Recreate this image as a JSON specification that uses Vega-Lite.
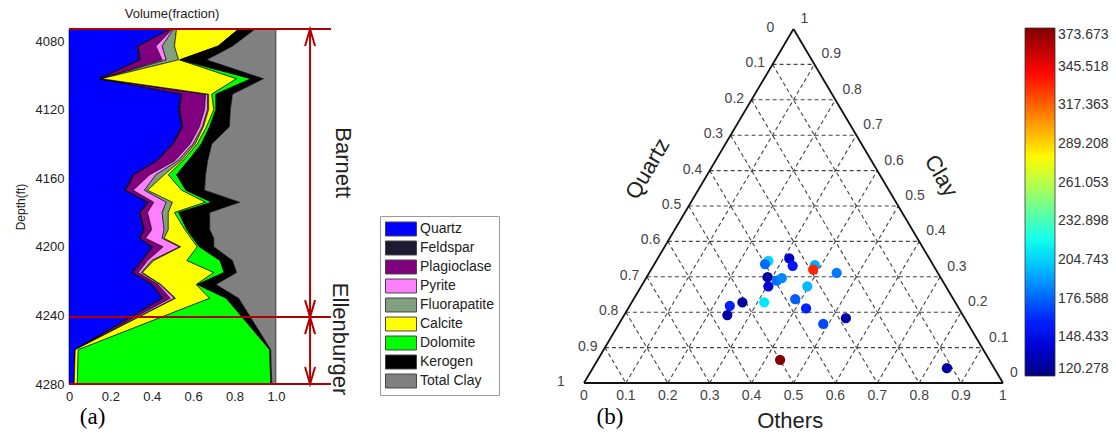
{
  "$schema": "https://vega.github.io/schema/vega-lite/v6.json",
  "background": "white",
  "padding": {"left": 14, "top": 8, "right": 0, "bottom": 0},
  "bounds": "flush",
  "spacing": 246,
  "config": {"view": {"stroke": null}, "font": "Liberation Sans", "axis": {"labelFont": "Liberation Sans", "titleFont": "Liberation Sans"}},
  "resolve": {"scale": {"color": "independent", "shape": "independent"}, "legend": {"color": "independent"}},
  "datasets": {
    "logs": [
      {"d": 4073, "Quartz": 0.49, "Feldspar": 0.002, "Plagioclase": 0.008, "Pyrite": 0.005, "Fluorapatite": 0.015, "Calcite": 0.30, "Dolomite": 0.002, "Kerogen": 0.078, "Total Clay": 0.10},
      {"d": 4083, "Quartz": 0.33, "Feldspar": 0.005, "Plagioclase": 0.085, "Pyrite": 0.03, "Fluorapatite": 0.06, "Calcite": 0.21, "Dolomite": 0.002, "Kerogen": 0.068, "Total Clay": 0.21},
      {"d": 4091, "Quartz": 0.34, "Feldspar": 0.005, "Plagioclase": 0.105, "Pyrite": 0.02, "Fluorapatite": 0.06, "Calcite": 0.005, "Dolomite": 0.002, "Kerogen": 0.128, "Total Clay": 0.335},
      {"d": 4102, "Quartz": 0.145, "Feldspar": 0.003, "Plagioclase": 0.004, "Pyrite": 0.003, "Fluorapatite": 0.003, "Calcite": 0.652, "Dolomite": 0.07, "Kerogen": 0.06, "Total Clay": 0.06},
      {"d": 4111, "Quartz": 0.54, "Feldspar": 0.005, "Plagioclase": 0.115, "Pyrite": 0.01, "Fluorapatite": 0.005, "Calcite": 0.015, "Dolomite": 0.02, "Kerogen": 0.08, "Total Clay": 0.21},
      {"d": 4120, "Quartz": 0.53, "Feldspar": 0.005, "Plagioclase": 0.12, "Pyrite": 0.015, "Fluorapatite": 0.005, "Calcite": 0.025, "Dolomite": 0.01, "Kerogen": 0.07, "Total Clay": 0.22},
      {"d": 4130, "Quartz": 0.545, "Feldspar": 0.005, "Plagioclase": 0.08, "Pyrite": 0.015, "Fluorapatite": 0.005, "Calcite": 0.015, "Dolomite": 0.015, "Kerogen": 0.095, "Total Clay": 0.225},
      {"d": 4140, "Quartz": 0.50, "Feldspar": 0.005, "Plagioclase": 0.08, "Pyrite": 0.015, "Fluorapatite": 0.01, "Calcite": 0.01, "Dolomite": 0.02, "Kerogen": 0.05, "Total Clay": 0.31},
      {"d": 4150, "Quartz": 0.42, "Feldspar": 0.005, "Plagioclase": 0.085, "Pyrite": 0.015, "Fluorapatite": 0.015, "Calcite": 0.01, "Dolomite": 0.025, "Kerogen": 0.095, "Total Clay": 0.33},
      {"d": 4158, "Quartz": 0.31, "Feldspar": 0.005, "Plagioclase": 0.075, "Pyrite": 0.03, "Fluorapatite": 0.04, "Calcite": 0.02, "Dolomite": 0.04, "Kerogen": 0.14, "Total Clay": 0.34},
      {"d": 4167, "Quartz": 0.27, "Feldspar": 0.005, "Plagioclase": 0.035, "Pyrite": 0.055, "Fluorapatite": 0.015, "Calcite": 0.165, "Dolomite": 0.02, "Kerogen": 0.09, "Total Clay": 0.345},
      {"d": 4174, "Quartz": 0.38, "Feldspar": 0.005, "Plagioclase": 0.025, "Pyrite": 0.06, "Fluorapatite": 0.03, "Calcite": 0.16, "Dolomite": 0.03, "Kerogen": 0.135, "Total Clay": 0.175},
      {"d": 4180, "Quartz": 0.34, "Feldspar": 0.005, "Plagioclase": 0.035, "Pyrite": 0.07, "Fluorapatite": 0.03, "Calcite": 0.03, "Dolomite": 0.02, "Kerogen": 0.15, "Total Clay": 0.32},
      {"d": 4190, "Quartz": 0.36, "Feldspar": 0.005, "Plagioclase": 0.035, "Pyrite": 0.06, "Fluorapatite": 0.02, "Calcite": 0.08, "Dolomite": 0.01, "Kerogen": 0.11, "Total Clay": 0.32},
      {"d": 4195, "Quartz": 0.34, "Feldspar": 0.005, "Plagioclase": 0.025, "Pyrite": 0.08, "Fluorapatite": 0.01, "Calcite": 0.13, "Dolomite": 0.01, "Kerogen": 0.10, "Total Clay": 0.30},
      {"d": 4200, "Quartz": 0.40, "Feldspar": 0.005, "Plagioclase": 0.05, "Pyrite": 0.08, "Fluorapatite": 0.005, "Calcite": 0.08, "Dolomite": 0.01, "Kerogen": 0.07, "Total Clay": 0.30},
      {"d": 4208, "Quartz": 0.35, "Feldspar": 0.005, "Plagioclase": 0.025, "Pyrite": 0.02, "Fluorapatite": 0.01, "Calcite": 0.16, "Dolomite": 0.16, "Kerogen": 0.06, "Total Clay": 0.21},
      {"d": 4215, "Quartz": 0.305, "Feldspar": 0.005, "Plagioclase": 0.025, "Pyrite": 0.015, "Fluorapatite": 0.005, "Calcite": 0.345, "Dolomite": 0.05, "Kerogen": 0.06, "Total Clay": 0.19},
      {"d": 4222, "Quartz": 0.40, "Feldspar": 0.005, "Plagioclase": 0.025, "Pyrite": 0.01, "Fluorapatite": 0.005, "Calcite": 0.17, "Dolomite": 0.005, "Kerogen": 0.09, "Total Clay": 0.29},
      {"d": 4230, "Quartz": 0.45, "Feldspar": 0.005, "Plagioclase": 0.035, "Pyrite": 0.02, "Fluorapatite": 0.005, "Calcite": 0.165, "Dolomite": 0.08, "Kerogen": 0.06, "Total Clay": 0.18},
      {"d": 4260, "Quartz": 0.03, "Feldspar": 0, "Plagioclase": 0, "Pyrite": 0, "Fluorapatite": 0, "Calcite": 0.015, "Dolomite": 0.925, "Kerogen": 0.005, "Total Clay": 0.025},
      {"d": 4280, "Quartz": 0.025, "Feldspar": 0, "Plagioclase": 0, "Pyrite": 0, "Fluorapatite": 0, "Calcite": 0.015, "Dolomite": 0.935, "Kerogen": 0.005, "Total Clay": 0.02}
    ],
    "minerals": [
      {"m": "Quartz", "o": 1}, {"m": "Feldspar", "o": 2}, {"m": "Plagioclase", "o": 3},
      {"m": "Pyrite", "o": 4}, {"m": "Fluorapatite", "o": 5}, {"m": "Calcite", "o": 6},
      {"m": "Dolomite", "o": 7}, {"m": "Kerogen", "o": 8}, {"m": "Total Clay", "o": 9}
    ],
    "grid": [
      {"x1": 0.05, "y1": 0.1, "x2": 0.95, "y2": 0.1},
      {"x1": 0.1, "y1": 0.2, "x2": 0.9, "y2": 0.2},
      {"x1": 0.15, "y1": 0.3, "x2": 0.85, "y2": 0.3},
      {"x1": 0.2, "y1": 0.4, "x2": 0.8, "y2": 0.4},
      {"x1": 0.25, "y1": 0.5, "x2": 0.75, "y2": 0.5},
      {"x1": 0.3, "y1": 0.6, "x2": 0.7, "y2": 0.6},
      {"x1": 0.35, "y1": 0.7, "x2": 0.65, "y2": 0.7},
      {"x1": 0.4, "y1": 0.8, "x2": 0.6, "y2": 0.8},
      {"x1": 0.45, "y1": 0.9, "x2": 0.55, "y2": 0.9},
      {"x1": 0.1, "y1": 0, "x2": 0.55, "y2": 0.9},
      {"x1": 0.2, "y1": 0, "x2": 0.6, "y2": 0.8},
      {"x1": 0.3, "y1": 0, "x2": 0.65, "y2": 0.7},
      {"x1": 0.4, "y1": 0, "x2": 0.7, "y2": 0.6},
      {"x1": 0.5, "y1": 0, "x2": 0.75, "y2": 0.5},
      {"x1": 0.6, "y1": 0, "x2": 0.8, "y2": 0.4},
      {"x1": 0.7, "y1": 0, "x2": 0.85, "y2": 0.3},
      {"x1": 0.8, "y1": 0, "x2": 0.9, "y2": 0.2},
      {"x1": 0.9, "y1": 0, "x2": 0.95, "y2": 0.1},
      {"x1": 0.45, "y1": 0.9, "x2": 0.9, "y2": 0},
      {"x1": 0.4, "y1": 0.8, "x2": 0.8, "y2": 0},
      {"x1": 0.35, "y1": 0.7, "x2": 0.7, "y2": 0},
      {"x1": 0.3, "y1": 0.6, "x2": 0.6, "y2": 0},
      {"x1": 0.25, "y1": 0.5, "x2": 0.5, "y2": 0},
      {"x1": 0.2, "y1": 0.4, "x2": 0.4, "y2": 0},
      {"x1": 0.15, "y1": 0.3, "x2": 0.3, "y2": 0},
      {"x1": 0.1, "y1": 0.2, "x2": 0.2, "y2": 0},
      {"x1": 0.05, "y1": 0.1, "x2": 0.1, "y2": 0}
    ],
    "edges": [
      {"x1": 0, "y1": 0, "x2": 1, "y2": 0},
      {"x1": 0, "y1": 0, "x2": 0.5, "y2": 1},
      {"x1": 1, "y1": 0, "x2": 0.5, "y2": 1}
    ],
    "quartzTicks": [
      {"lab": "0", "tx": 0.5, "clay": 1}, {"lab": "0.1", "tx": 0.45, "clay": 0.9}, {"lab": "0.2", "tx": 0.4, "clay": 0.8},
      {"lab": "0.3", "tx": 0.35, "clay": 0.7}, {"lab": "0.4", "tx": 0.3, "clay": 0.6}, {"lab": "0.5", "tx": 0.25, "clay": 0.5},
      {"lab": "0.6", "tx": 0.2, "clay": 0.4}, {"lab": "0.7", "tx": 0.15, "clay": 0.3}, {"lab": "0.8", "tx": 0.1, "clay": 0.2},
      {"lab": "0.9", "tx": 0.05, "clay": 0.1}, {"lab": "1", "tx": 0, "clay": 0}
    ],
    "clayTicks": [
      {"lab": "1", "tx": 0.5, "clay": 1}, {"lab": "0.9", "tx": 0.55, "clay": 0.9}, {"lab": "0.8", "tx": 0.6, "clay": 0.8},
      {"lab": "0.7", "tx": 0.65, "clay": 0.7}, {"lab": "0.6", "tx": 0.7, "clay": 0.6}, {"lab": "0.5", "tx": 0.75, "clay": 0.5},
      {"lab": "0.4", "tx": 0.8, "clay": 0.4}, {"lab": "0.3", "tx": 0.85, "clay": 0.3}, {"lab": "0.2", "tx": 0.9, "clay": 0.2},
      {"lab": "0.1", "tx": 0.95, "clay": 0.1}, {"lab": "0", "tx": 1, "clay": 0}
    ],
    "othersTicks": [
      {"lab": "0", "tx": 0, "clay": 0}, {"lab": "0.1", "tx": 0.1, "clay": 0}, {"lab": "0.2", "tx": 0.2, "clay": 0},
      {"lab": "0.3", "tx": 0.3, "clay": 0}, {"lab": "0.4", "tx": 0.4, "clay": 0}, {"lab": "0.5", "tx": 0.5, "clay": 0},
      {"lab": "0.6", "tx": 0.6, "clay": 0}, {"lab": "0.7", "tx": 0.7, "clay": 0}, {"lab": "0.8", "tx": 0.8, "clay": 0},
      {"lab": "0.9", "tx": 0.9, "clay": 0}, {"lab": "1", "tx": 1, "clay": 0}
    ],
    "samples": [
      {"tx": 0.440, "clay": 0.345, "t": 205},
      {"tx": 0.432, "clay": 0.336, "t": 178},
      {"tx": 0.490, "clay": 0.352, "t": 138},
      {"tx": 0.498, "clay": 0.331, "t": 158},
      {"tx": 0.551, "clay": 0.333, "t": 195},
      {"tx": 0.547, "clay": 0.320, "t": 333},
      {"tx": 0.603, "clay": 0.311, "t": 182},
      {"tx": 0.438, "clay": 0.299, "t": 128},
      {"tx": 0.460, "clay": 0.289, "t": 180},
      {"tx": 0.472, "clay": 0.296, "t": 186},
      {"tx": 0.440, "clay": 0.273, "t": 142},
      {"tx": 0.533, "clay": 0.273, "t": 198},
      {"tx": 0.430, "clay": 0.228, "t": 210},
      {"tx": 0.378, "clay": 0.228, "t": 127},
      {"tx": 0.348, "clay": 0.218, "t": 160},
      {"tx": 0.342, "clay": 0.192, "t": 130},
      {"tx": 0.504, "clay": 0.237, "t": 175},
      {"tx": 0.530, "clay": 0.211, "t": 160},
      {"tx": 0.571, "clay": 0.167, "t": 170},
      {"tx": 0.625, "clay": 0.183, "t": 130},
      {"tx": 0.468, "clay": 0.065, "t": 373},
      {"tx": 0.866, "clay": 0.042, "t": 130}
    ]
  },
  "hconcat": [
    {
      "width": 269,
      "height": 355,
      "layer": [
        {
          "data": {"name": "logs"},
          "transform": [
            {"fold": ["Quartz", "Feldspar", "Plagioclase", "Pyrite", "Fluorapatite", "Calcite", "Dolomite", "Kerogen", "Total Clay"], "as": ["m", "v"]},
            {"lookup": "m", "from": {"data": {"name": "minerals"}, "key": "m", "fields": ["o"]}}
          ],
          "mark": {"type": "area", "orient": "horizontal", "stroke": "black", "strokeWidth": 0.6, "opacity": 1},
          "encoding": {
            "y": {"field": "d", "type": "quantitative", "title": "Depth(ft)",
                  "scale": {"domain": [4073, 4280], "reverse": true, "nice": false, "zero": false},
                  "axis": {"values": [4080, 4100, 4120, 4140, 4160, 4180, 4200, 4220, 4240, 4260, 4280], "format": "d", "ticks": false, "domain": false, "grid": false,
                           "labelFontSize": 13, "labelPadding": 5, "labelColor": "#222", "titleFontSize": 12, "titleFontWeight": "normal", "titleColor": "#222", "titlePadding": 8}},
            "x": {"field": "v", "type": "quantitative", "stack": "zero", "title": null,
                  "scale": {"domain": [0, 1.3], "nice": false, "zero": false},
                  "axis": {"values": [0, 0.2, 0.4, 0.6, 0.8, 1.0], "labelExpr": "datum.value == 0 ? '0' : format(datum.value, '.1f')", "labelFlush": false,
                           "ticks": false, "domain": false, "grid": false, "labelFontSize": 13, "labelPadding": 6, "labelColor": "#222"}},
            "color": {"field": "m", "type": "nominal",
                      "scale": {"domain": ["Quartz", "Feldspar", "Plagioclase", "Pyrite", "Fluorapatite", "Calcite", "Dolomite", "Kerogen", "Total Clay"],
                                "range": ["#0000ff", "#1a1a30", "#800080", "#ff80ff", "#80a080", "#ffff00", "#00ff00", "#000000", "#808080"]},
                      "legend": {"orient": "none", "legendX": 311, "legendY": 187, "title": null,
                                 "symbolType": "M-1,-0.93H3.13V0.93H-1Z", "symbolSize": 225, "symbolStrokeColor": "#444", "symbolStrokeWidth": 1, "symbolOpacity": 1,
                                 "labelFontSize": 14, "labelFont": "Liberation Sans", "labelColor": "#222", "labelOffset": 19,
                                 "rowPadding": 1, "padding": 5, "strokeColor": "#999", "fillColor": "white"}},
            "order": {"field": "o", "type": "quantitative"}
          }
        },
        {
          "data": {"values": [{"d": 4073}, {"d": 4241}, {"d": 4280}]},
          "mark": {"type": "rule", "color": "#b00000", "strokeWidth": 2},
          "encoding": {
            "y": {"field": "d", "type": "quantitative", "title": "Depth(ft)"},
            "x": {"datum": 0},
            "x2": {"datum": 1.266}
          }
        },
        {
          "data": {"values": [{"d": 4073, "d2": 4241}, {"d": 4241, "d2": 4280}]},
          "mark": {"type": "rule", "color": "#b00000", "strokeWidth": 2},
          "encoding": {
            "y": {"field": "d", "type": "quantitative", "title": "Depth(ft)"},
            "y2": {"field": "d2"},
            "x": {"datum": 1.165}
          }
        },
        {
          "data": {"values": [{"d": 4073, "dir": "up"}, {"d": 4241, "dir": "up"}, {"d": 4241, "dir": "down"}, {"d": 4280, "dir": "down"}]},
          "mark": {"type": "point", "filled": false, "stroke": "#b00000", "strokeWidth": 2, "size": 100, "opacity": 1},
          "encoding": {
            "y": {"field": "d", "type": "quantitative", "title": "Depth(ft)"},
            "x": {"datum": 1.165},
            "shape": {"field": "dir", "type": "nominal", "legend": null,
                      "scale": {"domain": ["up", "down"], "range": ["M-1,3.4L0,0L1,3.4", "M-1,-3.4L0,0L1,-3.4"]}}
          }
        },
        {
          "data": {"values": [{}]},
          "mark": {"type": "text", "text": "Barnett", "angle": 90, "fontSize": 22, "font": "Liberation Sans", "color": "#222", "align": "center", "baseline": "middle"},
          "encoding": {"x": {"datum": 1.324}, "y": {"datum": 4151}}
        },
        {
          "data": {"values": [{}]},
          "mark": {"type": "text", "text": "Ellenburger", "angle": 90, "fontSize": 22, "font": "Liberation Sans", "color": "#222", "align": "center", "baseline": "middle"},
          "encoding": {"x": {"datum": 1.31}, "y": {"datum": 4253.8}}
        },
        {
          "data": {"values": [{}]},
          "mark": {"type": "text", "text": "Volume(fraction)", "fontSize": 13, "font": "Liberation Sans", "color": "#222", "align": "center", "baseline": "middle"},
          "encoding": {"x": {"datum": 0.498}, "y": {"datum": 4064.3}}
        },
        {
          "data": {"values": [{}]},
          "mark": {"type": "text", "text": "(a)", "fontSize": 23, "font": "Liberation Serif", "color": "#000", "align": "center", "baseline": "middle"},
          "encoding": {"x": {"datum": 0.114}, "y": {"datum": 4299.2}}
        }
      ]
    },
    {
      "width": 419,
      "height": 354,
      "layer": [
        {
          "data": {"name": "grid"},
          "mark": {"type": "rule", "color": "#444", "strokeWidth": 1.1, "strokeDash": [4, 3]},
          "encoding": {
            "x": {"field": "x1", "type": "quantitative", "scale": {"domain": [0, 1], "nice": false, "zero": false}, "axis": null},
            "y": {"field": "y1", "type": "quantitative", "scale": {"domain": [0, 1], "nice": false, "zero": false}, "axis": null},
            "x2": {"field": "x2"},
            "y2": {"field": "y2"}
          }
        },
        {
          "data": {"name": "edges"},
          "mark": {"type": "rule", "color": "#111", "strokeWidth": 1.8},
          "encoding": {
            "x": {"field": "x1", "type": "quantitative", "scale": {"domain": [0, 1], "nice": false, "zero": false}, "axis": null},
            "y": {"field": "y1", "type": "quantitative", "scale": {"domain": [0, 1], "nice": false, "zero": false}, "axis": null},
            "x2": {"field": "x2"},
            "y2": {"field": "y2"}
          }
        },
        {
          "data": {"name": "quartzTicks"},
          "mark": {"type": "text", "fontSize": 14, "font": "Liberation Sans", "color": "#444", "align": "left", "baseline": "middle", "dx": -27, "dy": -1},
          "encoding": {
            "x": {"field": "tx", "type": "quantitative", "scale": {"domain": [0, 1], "nice": false, "zero": false}, "axis": null},
            "y": {"field": "clay", "type": "quantitative", "scale": {"domain": [0, 1], "nice": false, "zero": false}, "axis": null},
            "text": {"field": "lab", "type": "nominal"}
          }
        },
        {
          "data": {"name": "clayTicks"},
          "mark": {"type": "text", "fontSize": 14, "font": "Liberation Sans", "color": "#444", "align": "left", "baseline": "middle", "dx": 7, "dy": -10},
          "encoding": {
            "x": {"field": "tx", "type": "quantitative", "scale": {"domain": [0, 1], "nice": false, "zero": false}, "axis": null},
            "y": {"field": "clay", "type": "quantitative", "scale": {"domain": [0, 1], "nice": false, "zero": false}, "axis": null},
            "text": {"field": "lab", "type": "nominal"}
          }
        },
        {
          "data": {"name": "othersTicks"},
          "mark": {"type": "text", "fontSize": 14, "font": "Liberation Sans", "color": "#444", "align": "center", "baseline": "middle", "dy": 13},
          "encoding": {
            "x": {"field": "tx", "type": "quantitative", "scale": {"domain": [0, 1], "nice": false, "zero": false}, "axis": null},
            "y": {"field": "clay", "type": "quantitative", "scale": {"domain": [0, 1], "nice": false, "zero": false}, "axis": null},
            "text": {"field": "lab", "type": "nominal"}
          }
        },
        {
          "data": {"name": "samples"},
          "mark": {"type": "circle", "size": 105, "opacity": 1},
          "encoding": {
            "x": {"field": "tx", "type": "quantitative", "scale": {"domain": [0, 1], "nice": false, "zero": false}, "axis": null},
            "y": {"field": "clay", "type": "quantitative", "scale": {"domain": [0, 1], "nice": false, "zero": false}, "axis": null},
            "color": {"field": "t", "type": "quantitative",
                      "scale": {"domain": [120.278, 151.952, 215.301, 278.65, 341.999, 373.673],
                                "range": ["#000080", "#0000ff", "#00ffff", "#ffff00", "#ff0000", "#800000"], "interpolate": "rgb"},
                      "legend": {"orient": "none", "legendX": 441, "legendY": -1, "type": "gradient", "direction": "vertical",
                                 "gradientLength": 348, "gradientThickness": 30, "gradientStrokeColor": "#333", "gradientStrokeWidth": 0.8,
                                 "values": [120.278, 148.433, 176.588, 204.743, 232.898, 261.053, 289.208, 317.363, 345.518, 373.673],
                                 "format": ".3f", "title": null, "labelFontSize": 14, "labelFont": "Liberation Sans", "labelColor": "#333",
                                 "labelOffset": 3, "labelBaseline": "middle", "labelOverlap": false, "padding": 0,
                                 "encode": {"labels": {"enter": {"baseline": {"value": "middle"}}, "update": {"baseline": {"value": "middle"}}}}}}
          }
        },
        {
          "data": {"values": [{}]},
          "mark": {"type": "text", "text": "Quartz", "angle": -60, "fontSize": 22, "font": "Liberation Sans", "color": "#222", "align": "center", "baseline": "middle"},
          "encoding": {"x": {"datum": 0.152}, "y": {"datum": 0.605}}
        },
        {
          "data": {"values": [{}]},
          "mark": {"type": "text", "text": "Clay", "angle": 60, "fontSize": 22, "font": "Liberation Sans", "color": "#222", "align": "center", "baseline": "middle"},
          "encoding": {"x": {"datum": 0.852}, "y": {"datum": 0.585}}
        },
        {
          "data": {"values": [{}]},
          "mark": {"type": "text", "text": "Others", "fontSize": 22, "font": "Liberation Sans", "color": "#222", "align": "center", "baseline": "middle"},
          "encoding": {"x": {"datum": 0.492}, "y": {"datum": -0.106}}
        },
        {
          "data": {"values": [{}]},
          "mark": {"type": "text", "text": "(b)", "fontSize": 23, "font": "Liberation Serif", "color": "#000", "align": "center", "baseline": "middle"},
          "encoding": {"x": {"datum": 0.062}, "y": {"datum": -0.096}}
        }
      ]
    }
  ]
}
